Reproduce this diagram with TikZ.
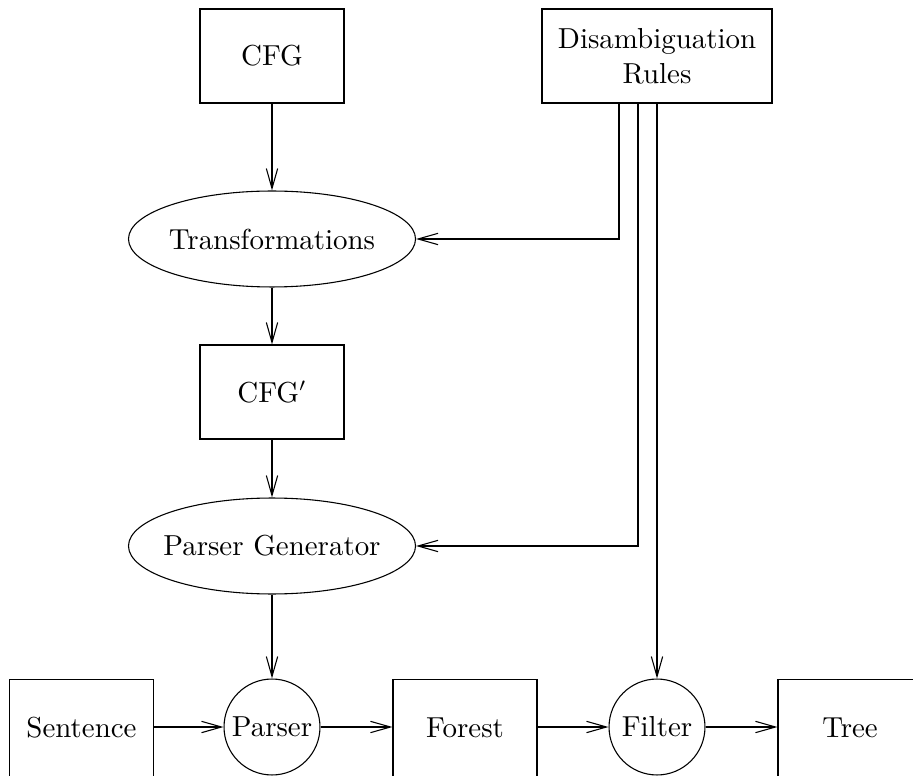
\documentclass[tikz,border=0pt]{standalone}
\usetikzlibrary{arrows.meta,shapes.geometric}
\begin{document}
\begin{tikzpicture}[x=0.37pt,y=-0.37pt,
  every node/.style={inner sep=0pt, line width=0.4pt, font=\fontsize{10.7}{13}\selectfont},
  box/.style={draw, rectangle, minimum width=53.3pt, minimum height=34.8pt},
  ell/.style={draw, ellipse, minimum width=106.2pt, minimum height=35.5pt},
  circ/.style={draw, circle, minimum size=35.5pt},
  arr/.style={line width=0.4pt, -{Straight Barb[length=7.4pt, width=4.2pt, line width=0.4pt]}}]
\useasboundingbox (0,0) rectangle (913,776);
\node[box] (cfg) at (272,56) {CFG};
\node[box, minimum width=85.1pt, align=center] (dis) at (657,56) {Disambiguation\\Rules};
\node[ell] (tr) at (272,239) {\makebox[0pt]{Transformations}};
\node[box] (cfgp) at (272,392) {CFG$'$};
\node[ell] (pg) at (272,546) {\makebox[0pt]{Parser Generator}};
\node[box, minimum height=36pt] (sen) at (81.5,728) {Sentence};
\node[circ] (par) at (272,727) {\makebox[0pt]{Parser}};
\node[box, minimum height=36pt] (for) at (465,728) {Forest};
\node[circ] (fil) at (657,727) {\makebox[0pt]{Filter}};
\node[box, minimum height=36pt] (tree) at (850,728) {Tree};
\draw[arr] (cfg) -- (tr);
\draw[arr] (tr) -- (cfgp);
\draw[arr] (cfgp) -- (pg);
\draw[arr] (pg) -- (par);
\draw[arr] (dis.south) ++(-38,0) |- (tr.east);
\draw[arr] (dis.south) ++(-19,0) |- (pg.east);
\draw[arr] (dis.south) -- (fil.north);
\draw[arr] (sen.east |- par) -- (par);
\draw[arr] (par) -- (for.west |- par);
\draw[arr] (for.east |- fil) -- (fil);
\draw[arr] (fil) -- (tree.west |- fil);
\end{tikzpicture}
\end{document}
